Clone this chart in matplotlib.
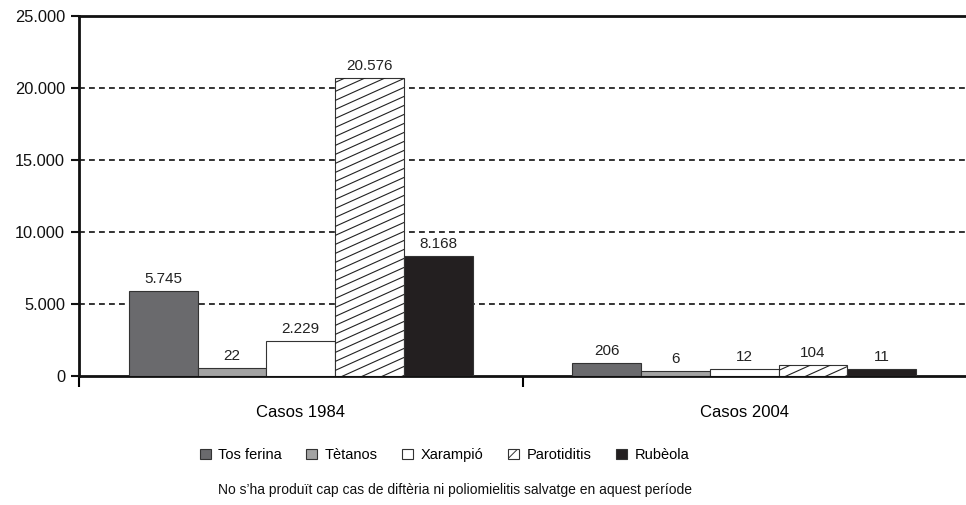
import numpy as np
import matplotlib.pyplot as plt
from matplotlib.patches import Patch
from matplotlib.lines import Line2D
from matplotlib.transforms import IdentityTransform
from matplotlib.ticker import FuncFormatter, FixedLocator

plt.rcParams['font.family'] = ['Liberation Sans', 'DejaVu Sans']
plt.rcParams['hatch.linewidth'] = 0.7

# data
groups = ['Casos 1984', 'Casos 2004']
diseases = ['Tos ferina', 'Tètanos', 'Xarampió', 'Parotiditis', 'Rubèola']
cases_1984 = [5745, 22, 2229, 20576, 8168]
cases_2004 = [206, 6, 12, 104, 11]
# bar heights as drawn in the original (small values have a minimum visible height)
drawn_1984 = [5850, 550, 2370, 20700, 8300]
drawn_2004 = [900, 300, 440, 720, 440]
note = "No s\u2019ha produït cap cas de diftèria ni poliomielitis salvatge en aquest període"

colors = ['#6a6a6d', '#a3a3a3', '#ffffff', '#ffffff', '#231f20']
hatched = [False, False, False, True, False]

def fmt(v):
    return f"{int(v):,}".replace(',', '.')

def hatch_bar(ax, bar, step=9.0, slope=0.45):
    # shallow diagonal lines like the original, clipped to the bar
    (x0, y0), (x1, y1) = ax.transData.transform([(bar.get_x(), 0),
                                                  (bar.get_x() + bar.get_width(), bar.get_height())])
    w = x1 - x0
    y = y0 - slope * w
    while y < y1:
        ln = Line2D([x0, x1], [y, y + slope * w], transform=IdentityTransform(),
                    color='#222222', lw=0.8, zorder=3.5)
        ax.add_line(ln)
        ln.set_clip_path(bar)
        y += step

fig = plt.figure(figsize=(9.66, 5.05), dpi=100)
ax = fig.add_axes([0.0818, 0.2564, 0.9182, 0.7119])
ax.set_xlim(0, 2)
ax.set_ylim(0, 25000)

width = 0.155
centers = np.array([0.5, 1.5])
drawn = np.array([drawn_1984, drawn_2004])
labels = np.array([cases_1984, cases_2004])
for i in range(len(diseases)):
    xs = centers + (i - 2) * width
    bars = ax.bar(xs, drawn[:, i], width, color=colors[i], edgecolor='#333333',
                  linewidth=0.8, zorder=3)
    for b, lab in zip(bars, labels[:, i]):
        if hatched[i]:
            hatch_bar(ax, b)
        ax.text(b.get_x() + b.get_width() / 2, b.get_height() + 350, fmt(lab),
                ha='center', va='bottom', fontsize=11, color='#222222', zorder=4)

ax.set_yticks(np.arange(0, 25001, 5000))
ax.yaxis.set_major_formatter(FuncFormatter(lambda v, p: fmt(v)))
ax.tick_params(axis='y', direction='out', length=6, width=1.5, labelsize=11.8,
               colors='#111111', pad=4)
for y in range(5000, 25000, 5000):
    ax.axhline(y, color='#111111', lw=1.2, ls=(0, (3.5, 2.5)), zorder=1)

ax.xaxis.set_major_locator(FixedLocator([0, 1]))
ax.xaxis.set_minor_locator(FixedLocator(centers))
ax.set_xticklabels([])
ax.set_xticklabels(groups, minor=True)
ax.tick_params(axis='x', which='major', direction='out', length=8, width=1.5)
ax.tick_params(axis='x', which='minor', length=0, pad=21, labelsize=12)

for s in ['left', 'bottom', 'top']:
    ax.spines[s].set_linewidth(2)
    ax.spines[s].set_color('#111111')
ax.spines['right'].set_visible(False)

handles = [Patch(facecolor=c, edgecolor='#333333', hatch='//' if h else None, linewidth=0.8)
           for c, h in zip(colors, hatched)]
fig.legend(handles, diseases, loc='center', bbox_to_anchor=(0.46, 0.099), ncol=5,
           frameon=False, fontsize=10.5,
           handlelength=0.75, handleheight=0.75, handletextpad=0.5, columnspacing=1.7)
fig.text(0.471, 0.03, note, ha='center', va='center', fontsize=10, color='#111111')

fig.savefig('out.png', dpi=100)
